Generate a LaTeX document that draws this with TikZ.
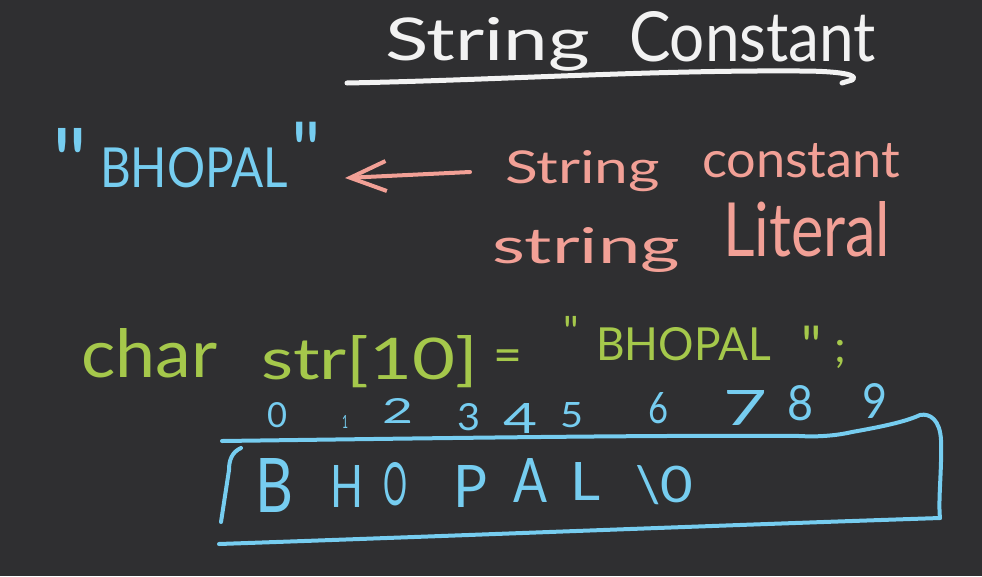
\documentclass[tikz,border=0pt]{standalone}
\usepackage{fontspec}
\setmainfont{Lato}
\usepackage{graphicx}
\usetikzlibrary{arrows.meta}
\definecolor{bgc}{RGB}{47,47,49}
\definecolor{ink}{RGB}{242,242,242}
\definecolor{sky}{RGB}{118,205,240}
\definecolor{salmon}{RGB}{242,160,150}
\definecolor{lime}{RGB}{165,200,75}
\tikzset{
  hw/.style={inner sep=0pt, outer sep=0pt},
  pen/.style={line width=4pt, line cap=round, line join=round},
}
\newcommand{\hwn}[7]{\node[hw, text=#7, anchor=base west] (#1) at (#2,#3) {\resizebox{#4pt}{#5pt}{#6}};}
\newcommand{\qmk}[5]{\node[hw, text=#5, anchor=north, font=\fontsize{#4}{#4}\selectfont] (#1) at (#2,#3) {\textquotedbl};}
\begin{document}
\begin{tikzpicture}[x=1pt,y=-1pt]
\fill[bgc] (0,0) rectangle (982,576);
\useasboundingbox (0,0) rectangle (982,576);

% title
\hwn{t1}{385}{60}{205}{43}{String}{ink}
\hwn{t2}{629}{61}{247}{50}{Constant}{ink}
\draw[pen, ink, line width=5pt] (347,83) .. controls (500,80) and (650,70) .. (800,71)
  .. controls (840,71) and (860,75) .. (852,80) -- (842,83);

% "BHOPAL" <- String constant / string Literal
\qmk{q1}{70}{128}{95}{sky}
\hwn{b1}{100}{187}{188}{40}{BHOPAL}{sky}
\qmk{q2}{306}{122}{80}{sky}
\hwn{s1}{505}{183}{155}{33}{String}{salmon}
\hwn{s2}{702}{177}{198}{34}{constant}{salmon}
\hwn{s3}{492}{263}{188}{36}{string}{salmon}
\hwn{s4}{723}{256}{167}{55}{Literal}{salmon}
\coordinate (arT) at (470,172);
\coordinate (arH) at (345,178);
\draw[pen, salmon, -{Straight Barb[length=36pt,width=30pt]}] (arT) -- (arH);

% char str[10] = "BHOPAL";
\hwn{g1}{81}{377}{136}{49}{char}{lime}
\hwn{g2}{261}{379}{217}{44}{str[10]}{lime}
\node[hw, text=lime, anchor=north, font=\fontsize{50}{50}\selectfont] (g3) at (508,350) {=};
\qmk{g4}{571}{316}{42}{lime}
\hwn{g5}{596}{360}{175}{33}{BHOPAL}{lime}
\qmk{g6}{812}{326}{55}{lime}
\node[hw, text=lime, anchor=base, font=\fontsize{45}{45}\selectfont] (g7) at (840,362) {;};

% indices
\hwn{d0}{267}{427}{20}{25}{0}{sky}
\hwn{d1}{342}{428}{6}{13}{1}{sky}
\hwn{d2}{382}{423}{31}{25}{2}{sky}
\hwn{d3}{457}{430}{23}{27}{3}{sky}
\hwn{d4}{503}{433}{34}{30}{4}{sky}
\hwn{d5}{560}{427}{23}{25}{5}{sky}
\hwn{d6}{648}{423}{20}{31}{6}{sky}
\hwn{d7}{723}{425}{44}{35}{7}{sky}
\hwn{d8}{787}{420}{26}{35}{8}{sky}
\hwn{d9}{862}{418}{25}{35}{9}{sky}

% array box contents
\hwn{c0}{255}{512}{38}{54}{B}{sky}
\hwn{c1}{330}{507}{33}{42}{H}{sky}
\hwn{c2}{383}{505}{24}{43}{O}{sky}
\hwn{c3}{453}{507}{34}{42}{P}{sky}
\hwn{c4}{513}{502}{34}{44}{A}{sky}
\hwn{c5}{570}{500}{30}{38}{L}{sky}
\hwn{c6}{635}{502}{58}{37}{\textbackslash 0}{sky}

% array box outline
\draw[pen, sky] (222,441) .. controls (450,438) and (650,435) .. (800,436)
  .. controls (815,437) and (835,436) .. (852,432)
  .. controls (880,427) and (905,422) .. (920,415)
  .. controls (930,413) and (940,420) .. (941,440)
  .. controls (942,470) and (938,500) .. (940,518);
\draw[pen, sky] (940,518) .. controls (700,526) and (450,536) .. (219,544);
\draw[pen, sky] (241,448) .. controls (232,452) and (229,460) .. (229,470) -- (221,522);
\end{tikzpicture}
\end{document}
